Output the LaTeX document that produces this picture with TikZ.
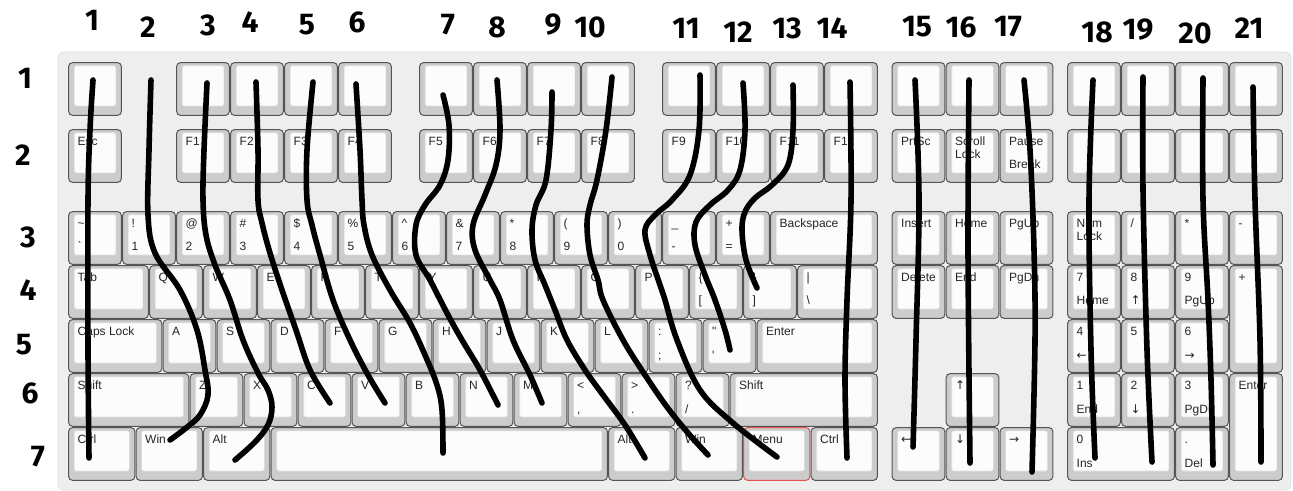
\documentclass[tikz,border=0pt]{standalone}
\usepackage{fontspec}
\newfontfamily\teclas{Liberation Sans}
\newfontfamily\flechas{DejaVu Sans}
\newfontfamily\mano{Fira Sans}

\definecolor{fondo}{HTML}{EEEEEE}
\definecolor{bordefondo}{HTML}{DDDDDD}
\definecolor{borde}{HTML}{555555}
\definecolor{gris}{HTML}{CCCCCC}
\definecolor{blanco}{HTML}{FCFCFC}
\definecolor{menu}{HTML}{E85050}

% [estilo] nombre, columna, fila (px), ancho, alto, arriba, abajo
\newcommand{\tecla}[8][]{%
  \node[tecla, #1, minimum width={(54*(#5)-1.2)*0.5pt}, minimum height={(54*(#6)-1.2)*0.5pt}] (#2) at ({68+54*(#3)+0.6}, {#4+0.6}) {};
  \filldraw[draw=gray!25, fill=blanco, line width=0.3pt, rounded corners=1pt] ([shift={(2.8pt,-1.6pt)}]#2.north west) rectangle ([shift={(-2.8pt,4.7pt)}]#2.south east);
  \node[etiqueta] at ([shift={(4.35pt,-8.05pt)}]#2.north west) {#7};
  \node[etiqueta] at ([shift={(4.35pt,-19.7pt)}]#2.north west) {#8};
}

\begin{document}
\begin{tikzpicture}[x=0.5pt, y=-0.5pt,
    tecla/.style={draw=borde, fill=gris, rounded corners=2pt, line width=0.5pt, anchor=north west, inner sep=0pt, outer sep=0pt},
    etiqueta/.style={anchor=base west, inner sep=0pt, font=\teclas\fontsize{6}{7}\selectfont, text=black!85},
    cable/.style={line width=2.8pt, line cap=round, line join=round},
    numero/.style={font=\mano\bfseries\fontsize{15}{15}\selectfont, inner sep=0pt}
  ]
  \useasboundingbox (0,0) rectangle (1293,491);
  \filldraw[fill=fondo, draw=bordefondo, rounded corners=3pt] (58,52) rectangle (1291,490);

  % fila 1
  \foreach \c [count=\i] in {0,2,3,4,5,6.5,7.5,8.5,9.5,11,12,13,14,15.25,16.25,17.25,18.5,19.5,20.5,21.5}
    \tecla{a\i}{\c}{62}{1}{1}{}{};

  % fila 2
  \tecla{esc}{0}{129}{1}{1}{Esc}{}
  \foreach \c [count=\i] in {2,3,4,5,6.5,7.5,8.5,9.5,11,12,13,14}
    \tecla{f\i}{\c}{129}{1}{1}{F\i}{};
  \tecla{prtsc}{15.25}{129}{1}{1}{PrtSc}{}
  \tecla{scroll}{16.25}{129}{1}{1}{Scroll}{}
  \node[etiqueta] at ([shift={(4.35pt,-14.4pt)}]scroll.north west) {Lock};
  \tecla{pausa}{17.25}{129}{1}{1}{Pause}{Break}
  \foreach \c [count=\i] in {18.5,19.5,20.5,21.5}
    \tecla{b\i}{\c}{129}{1}{1}{}{};

  % fila 3
  \tecla{tilde}{0}{211}{1}{1}{\textasciitilde}{`}
  \tecla{n1}{1}{211}{1}{1}{!}{1}
  \tecla{n2}{2}{211}{1}{1}{@}{2}
  \tecla{n3}{3}{211}{1}{1}{\#}{3}
  \tecla{n4}{4}{211}{1}{1}{\$}{4}
  \tecla{n5}{5}{211}{1}{1}{\%}{5}
  \tecla{n6}{6}{211}{1}{1}{\textasciicircum}{6}
  \tecla{n7}{7}{211}{1}{1}{\&}{7}
  \tecla{n8}{8}{211}{1}{1}{*}{8}
  \tecla{n9}{9}{211}{1}{1}{(}{9}
  \tecla{n0}{10}{211}{1}{1}{)}{0}
  \tecla{menos}{11}{211}{1}{1}{\_}{-}
  \tecla{igual}{12}{211}{1}{1}{+}{=}
  \tecla{retro}{13}{211}{2}{1}{Backspace}{}
  \tecla{insert}{15.25}{211}{1}{1}{Insert}{}
  \tecla{inicio}{16.25}{211}{1}{1}{Home}{}
  \tecla{repag}{17.25}{211}{1}{1}{PgUp}{}
  \tecla{numlock}{18.5}{211}{1}{1}{Num}{}
  \node[etiqueta] at ([shift={(4.35pt,-14.4pt)}]numlock.north west) {Lock};
  \tecla{div}{19.5}{211}{1}{1}{/}{}
  \tecla{por}{20.5}{211}{1}{1}{*}{}
  \tecla{resta}{21.5}{211}{1}{1}{-}{}

  % fila 4
  \tecla{tab}{0}{265}{1.5}{1}{Tab}{}
  \foreach \l [count=\i from 0] in {Q,W,E,R,T,Y,U,I,O,P}
    \tecla{\l}{1.5+\i}{265}{1}{1}{\l}{};
  \tecla{corchab}{11.5}{265}{1}{1}{\{}{[}
  \tecla{corchce}{12.5}{265}{1}{1}{\}}{]}
  \tecla{barra}{13.5}{265}{1.5}{1}{|}{\textbackslash}
  \tecla{supr}{15.25}{265}{1}{1}{Delete}{}
  \tecla{fin}{16.25}{265}{1}{1}{End}{}
  \tecla{avpag}{17.25}{265}{1}{1}{PgDn}{}
  \tecla{k7}{18.5}{265}{1}{1}{7}{Home}
  \tecla{k8}{19.5}{265}{1}{1}{8}{{\flechas ↑}}
  \tecla{k9}{20.5}{265}{1}{1}{9}{PgUp}
  \tecla{suma}{21.5}{265}{1}{2}{+}{}

  % fila 5
  \tecla{caps}{0}{319}{1.75}{1}{Caps Lock}{}
  \foreach \l [count=\i from 0] in {A,S,D,F,G,H,J,K,L}
    \tecla{\l}{1.75+\i}{319}{1}{1}{\l}{};
  \tecla{puntocoma}{10.75}{319}{1}{1}{:}{;}
  \tecla{comilla}{11.75}{319}{1}{1}{"}{'}
  \tecla{enter}{12.75}{319}{2.25}{1}{Enter}{}
  \tecla{k4}{18.5}{319}{1}{1}{4}{{\flechas ←}}
  \tecla{k5}{19.5}{319}{1}{1}{5}{}
  \tecla{k6}{20.5}{319}{1}{1}{6}{{\flechas →}}

  % fila 6
  \tecla{shifti}{0}{373}{2.25}{1}{Shift}{}
  \foreach \l [count=\i from 0] in {Z,X,C,V,B,N,M}
    \tecla{\l}{2.25+\i}{373}{1}{1}{\l}{};
  \tecla{coma}{9.25}{373}{1}{1}{<}{,}
  \tecla{punto}{10.25}{373}{1}{1}{>}{.}
  \tecla{barrad}{11.25}{373}{1}{1}{?}{/}
  \tecla{shiftd}{12.25}{373}{2.75}{1}{Shift}{}
  \tecla{arriba}{16.25}{373}{1}{1}{{\flechas ↑}}{}
  \tecla{k1}{18.5}{373}{1}{1}{1}{End}
  \tecla{k2}{19.5}{373}{1}{1}{2}{{\flechas ↓}}
  \tecla{k3}{20.5}{373}{1}{1}{3}{PgDn}
  \tecla{intro}{21.5}{373}{1}{2}{Enter}{}

  % fila 7
  \tecla{ctrli}{0}{427}{1.25}{1}{Ctrl}{}
  \tecla{wini}{1.25}{427}{1.25}{1}{Win}{}
  \tecla{alti}{2.5}{427}{1.25}{1}{Alt}{}
  \tecla{espacio}{3.75}{427}{6.25}{1}{}{}
  \tecla{altd}{10}{427}{1.25}{1}{Alt}{}
  \tecla{wind}{11.25}{427}{1.25}{1}{Win}{}
  \tecla[draw=menu]{menu}{12.5}{427}{1.25}{1}{Menu}{}
  \tecla{ctrld}{13.75}{427}{1.25}{1}{Ctrl}{}
  \tecla{izq}{15.25}{427}{1}{1}{{\flechas ←}}{}
  \tecla{abajo}{16.25}{427}{1}{1}{{\flechas ↓}}{}
  \tecla{der}{17.25}{427}{1}{1}{{\flechas →}}{}
  \tecla{k0}{18.5}{427}{2}{1}{0}{Ins}
  \tecla{kpunto}{20.5}{427}{1}{1}{.}{Del}

  % cables
  \draw[cable] plot[smooth, tension=0.6] coordinates {(93,80) (90,130) (88,200) (88,350) (89,458)};
  \draw[cable] plot[smooth, tension=0.6] coordinates {(151,80) (149,150) (148,215) (155,253) (180,290) (197,330) (205,370) (208,395) (200,415) (186,428) (170,440)};
  \draw[cable] plot[smooth, tension=0.6] coordinates {(207,83) (204,150) (203,200) (206,235) (215,265) (230,300) (243,340) (258,373) (268,390) (272,407) (268,425) (255,442) (235,460)};
  \draw[cable] plot[smooth, tension=0.6] coordinates {(256,82) (258,150) (258,200) (262,223) (270,253) (282,290) (296,330) (310,370) (330,403)};
  \draw[cable] plot[smooth, tension=0.6] coordinates {(313,82) (307,150) (307,200) (312,225) (320,255) (333,300) (350,340) (368,375) (385,403)};
  \draw[cable] plot[smooth, tension=0.6] coordinates {(356,84) (360,150) (362,200) (364,225) (372,255) (390,290) (410,323) (425,355) (437,385) (442,410) (443,453)};
  \draw[cable] plot[smooth, tension=0.6] coordinates {(443,95) (449,125) (448,160) (440,185) (425,205) (416,225) (416,255) (430,280) (448,315) (462,340) (480,370) (498,405)};
  \draw[cable] plot[smooth, tension=0.6] coordinates {(497,80) (500,130) (496,165) (485,195) (473,225) (475,250) (490,280) (500,300) (513,340) (530,375) (542,403)};
  \draw[cable] plot[smooth, tension=0.6] coordinates {(552,92) (551,130) (546,180) (536,205) (532,230) (535,260) (545,285) (555,310) (567,340) (585,370) (603,395) (625,425) (645,458)};
  \draw[cable] plot[smooth, tension=0.6] coordinates {(612,77) (606,130) (597,180) (590,205) (587,225) (590,255) (598,280) (603,300) (623,340) (645,375) (667,407) (688,433) (708,455)};
  \draw[cable] plot[smooth, tension=0.6] coordinates {(700,75) (699,130) (690,175) (672,200) (655,215) (645,230) (650,255) (660,285) (665,300) (677,340) (700,390) (733,423) (777,457)};
  \draw[cable] plot[smooth, tension=0.6] coordinates {(743,83) (745,130) (740,170) (728,190) (710,205) (696,222) (695,245) (705,275) (715,300) (725,330) (730,350)};
  \draw[cable] plot[smooth, tension=0.6] coordinates {(793,85) (793,130) (788,165) (772,185) (755,198) (745,212) (742,230) (746,260) (757,288)};
  \draw[cable] plot[smooth, tension=0.6] coordinates {(850,82) (851,200) (847,300) (845,380) (847,458)};
  \draw[cable] plot[smooth, tension=0.6] coordinates {(915,80) (919,200) (916,340) (913,447)};
  \draw[cable] plot[smooth, tension=0.6] coordinates {(969,80) (968,250) (970,463)};
  \draw[cable] plot[smooth, tension=0.6] coordinates {(1024,80) (1030,150) (1034,250) (1035,340) (1032,472)};
  \draw[cable] plot[smooth, tension=0.6] coordinates {(1093,80) (1089,200) (1091,350) (1095,458)};
  \draw[cable] plot[smooth, tension=0.6] coordinates {(1143,77) (1143,190) (1147,350) (1152,462)};
  \draw[cable] plot[smooth, tension=0.6] coordinates {(1203,78) (1203,200) (1208,300) (1211,380) (1213,465)};
  \draw[cable] plot[smooth, tension=0.6] coordinates {(1253,87) (1255,200) (1260,340) (1261,462)};

  % columnas y filas
  \foreach \n/\x/\y in {1/92/20, 2/148/27, 3/208/25, 4/250/22, 5/307/25, 6/357/22, 7/448/25, 8/497/27, 9/553/25, 10/590/27, 11/686/28, 12/738/32, 13/787/28, 14/832/28, 15/917/27, 16/961/27, 17/1008/27, 18/1097/32, 19/1138/30, 20/1195/33, 21/1249/28}
    \node[numero] (c\n) at (\x,\y) {\n};
  \foreach \n/\x/\y in {1/25/78, 2/23/155, 3/28/237, 4/28/290, 5/24/345, 6/30/393, 7/38/457}
    \node[numero] (r\n) at (\x,\y) {\n};
\end{tikzpicture}
\end{document}
